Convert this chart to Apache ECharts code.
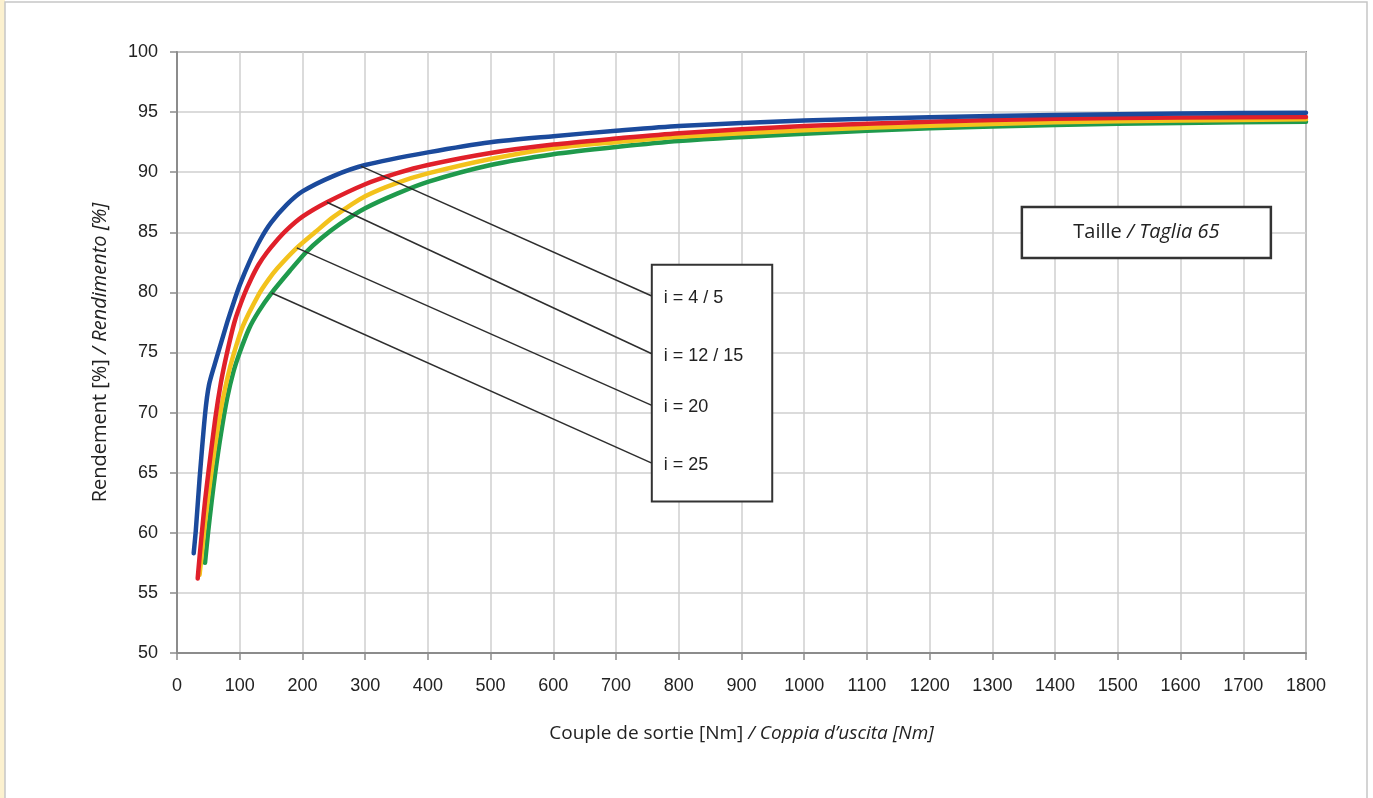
<!DOCTYPE html>
<html>
<head>
<meta charset="utf-8">
<script src="https://cdn.jsdelivr.net/npm/echarts@6/dist/echarts.min.js"></script>
<style>
  html, body { margin: 0; padding: 0; background: #ffffff; }
  #chart { width: 1373px; height: 798px; }
</style>
</head>
<body>
<div id="chart"></div>
<script>
// Output torque [Nm] vs. efficiency [%], size 65, one curve per ratio group
const ratioLabels = ['i = 4 / 5', 'i = 12 / 15', 'i = 20', 'i = 25'];
const lineColors = ['#1b4a9c', '#e0202a', '#f3c21c', '#1f9a4c'];

const torqueR5 = [26.6, 30, 36, 45, 51, 60, 68, 80, 90, 100, 116, 133, 150, 175, 200, 250, 300, 400, 500, 600, 700, 800, 1000, 1200, 1400, 1600, 1800];
const effR5    = [58.3, 60.2, 64.5, 70, 72.3, 74.0, 75.4, 77.5, 79.1, 80.6, 82.6, 84.4, 85.8, 87.3, 88.4, 89.7, 90.6, 91.65, 92.5, 93.0, 93.45, 93.85, 94.3, 94.57, 94.76, 94.88, 94.95];

const torqueR15 = [33, 36, 40, 45, 50.5, 61, 70, 79, 92, 107, 118, 130, 143, 157, 175, 200, 239, 300, 350, 400, 500, 600, 700, 800, 1000, 1200, 1400, 1600, 1800];
const effR15    = [56.2, 58.0, 60.2, 62.8, 65.2, 69.5, 72.5, 74.8, 77.6, 79.8, 81.1, 82.3, 83.3, 84.2, 85.2, 86.3, 87.5, 89.0, 89.9, 90.6, 91.6, 92.3, 92.8, 93.25, 93.84, 94.2, 94.45, 94.55, 94.6];

const torqueR20 = [36, 40, 45, 56, 69, 80, 90, 105, 130, 145, 160, 191, 220, 250, 300, 350, 400, 500, 600, 700, 800, 1000, 1200, 1400, 1600, 1800];
const effR20    = [56.5, 58.5, 61.0, 65.5, 70.0, 72.8, 74.8, 77.2, 79.8, 81.0, 82.0, 83.7, 85.0, 86.3, 88.0, 89.1, 89.9, 91.1, 92.0, 92.5, 92.95, 93.5, 93.87, 94.15, 94.3, 94.4];

const torqueR25 = [44.7, 49.5, 55, 61, 70, 80, 90, 100, 115, 130, 150, 180, 205, 230, 260, 300, 350, 400, 500, 600, 700, 800, 1000, 1200, 1400, 1600, 1800];
const effR25    = [57.5, 60.0, 62.5, 65.0, 68.2, 71.2, 73.4, 75.0, 77.0, 78.4, 79.9, 81.8, 83.3, 84.5, 85.7, 87.0, 88.2, 89.2, 90.6, 91.5, 92.1, 92.6, 93.2, 93.65, 93.93, 94.1, 94.2];

// Leader lines: from a point on each curve to the label box
const leaderStart = [[293, 90.5], [239, 87.5], [191, 83.7], [151, 79.95]];
const leaderEnd   = [[757, 79.7], [757, 74.9], [757, 70.6], [757, 65.8]];

// Annotation boxes (data units)
const ratioBox = [[757, 82.3], [949, 62.6]];
const sizeBox  = [[1347, 87.1], [1744, 82.86]];

const xTicks = { min: 0, max: 1800, step: 100 };
const yTicks = { min: 50, max: 100, step: 5 };

const numFont = '"Liberation Sans Narrow", "Arial Narrow", "Liberation Sans", Arial, sans-serif';
const textFont = '"Open Sans", "Noto Sans", sans-serif';

function pairs(xs, ys) { return xs.map((x, i) => [x, ys[i]]); }

const curves = [
  pairs(torqueR5, effR5),
  pairs(torqueR15, effR15),
  pairs(torqueR20, effR20),
  pairs(torqueR25, effR25)
];

const series = [];
// draw green first so blue ends on top
for (let k = curves.length - 1; k >= 0; k--) {
  series.push({
    type: 'line',
    name: ratioLabels[k],
    data: curves[k],
    smooth: 0.25,
    showSymbol: false,
    symbol: 'none',
    lineStyle: { color: lineColors[k], width: 4.5, cap: 'round', join: 'round' },
    z: 3,
    silent: true
  });
}
leaderStart.forEach((p, k) => {
  series.push({
    type: 'line',
    data: [p, leaderEnd[k]],
    showSymbol: false,
    symbol: 'none',
    lineStyle: { color: '#2e2e2e', width: 1.5 },
    z: 4,
    silent: true,
    endLabel: {
      show: true,
      formatter: ratioLabels[k],
      distance: 12,
      offset: [0, 2],
      color: '#222222',
      fontFamily: numFont,
      fontSize: 18
    }
  });
});

const chart = echarts.init(document.getElementById('chart'), null, { renderer: 'canvas' });

const nameRich = (size) => ({
  n: { fontFamily: textFont, fontSize: size, color: '#222' },
  it: { fontFamily: textFont, fontSize: size, fontStyle: 'italic', color: '#222' }
});

chart.setOption({
  backgroundColor: '#ffffff',
  animation: false,
  grid: {
    left: 177, top: 52, right: 67, bottom: 145,
    show: true, borderColor: '#9a9a9a', borderWidth: 2
  },
  xAxis: {
    type: 'value',
    min: xTicks.min, max: xTicks.max, interval: xTicks.step,
    name: '{n|Couple de sortie [Nm]}{it| / Coppia d\u2019uscita [Nm]}',
    nameLocation: 'middle',
    nameGap: 71,
    nameTextStyle: { rich: nameRich(19) },
    axisLine: { show: true, lineStyle: { color: '#8c8c8c', width: 2 } },
    axisTick: { show: true, length: 7, lineStyle: { color: '#8c8c8c', width: 1.5 } },
    axisLabel: { margin: 24, color: '#222', fontFamily: numFont, fontSize: 18, formatter: (v) => String(v) },
    splitLine: { show: true, lineStyle: { color: '#cfcfcf', width: 1.5 } }
  },
  yAxis: {
    type: 'value',
    min: yTicks.min, max: yTicks.max, interval: yTicks.step,
    name: '{n|Rendement [%]}{it| / Rendimento [%]}',
    nameLocation: 'middle',
    nameGap: 67,
    nameRotate: 90,
    nameTextStyle: { rich: nameRich(20) },
    axisLine: { show: true, lineStyle: { color: '#8c8c8c', width: 2 } },
    axisTick: { show: true, length: 7, lineStyle: { color: '#8c8c8c', width: 1.5 } },
    axisLabel: { margin: 19, color: '#222', fontFamily: numFont, fontSize: 18, formatter: (v) => String(v) },
    splitLine: { show: true, lineStyle: { color: '#cfcfcf', width: 1.5 } }
  },
  series: series
});

function boxRect(box) {
  const a = chart.convertToPixel({ gridIndex: 0 }, box[0]);
  const b = chart.convertToPixel({ gridIndex: 0 }, box[1]);
  return { x: Math.min(a[0], b[0]), y: Math.min(a[1], b[1]), width: Math.abs(b[0] - a[0]), height: Math.abs(b[1] - a[1]) };
}

const rb = boxRect(ratioBox);
const sb = boxRect(sizeBox);

chart.setOption({
  graphic: [
    // page frame
    { type: 'rect', z: -10, silent: true, shape: { x: 0, y: 0, width: 5, height: 798 }, style: { fill: '#fcf1cf' } },
    { type: 'rect', z: -9, silent: true, shape: { x: 5, y: 2, width: 1362, height: 820 }, style: { fill: 'none', stroke: '#c6c6c6', lineWidth: 1.5 } },
    // ratio label box
    { type: 'rect', z: 1, silent: true, shape: rb, style: { fill: '#ffffff', stroke: '#333333', lineWidth: 2 } },
    // size box
    { type: 'rect', z: 1, silent: true, shape: sb, style: { fill: '#ffffff', stroke: '#333333', lineWidth: 2.5 } },
    {
      type: 'text', z: 5, silent: true,
      x: sb.x + sb.width / 2, y: sb.y + sb.height / 2,
      style: {
        text: '{n|Taille}{it| / Taglia 65}',
        align: 'center', verticalAlign: 'middle',
        rich: {
          n: { fontFamily: textFont, fontSize: 20, fill: '#222' },
          it: { fontFamily: textFont, fontSize: 20, fontStyle: 'italic', fill: '#222' }
        }
      }
    }
  ]
});
</script>
</body>
</html>
